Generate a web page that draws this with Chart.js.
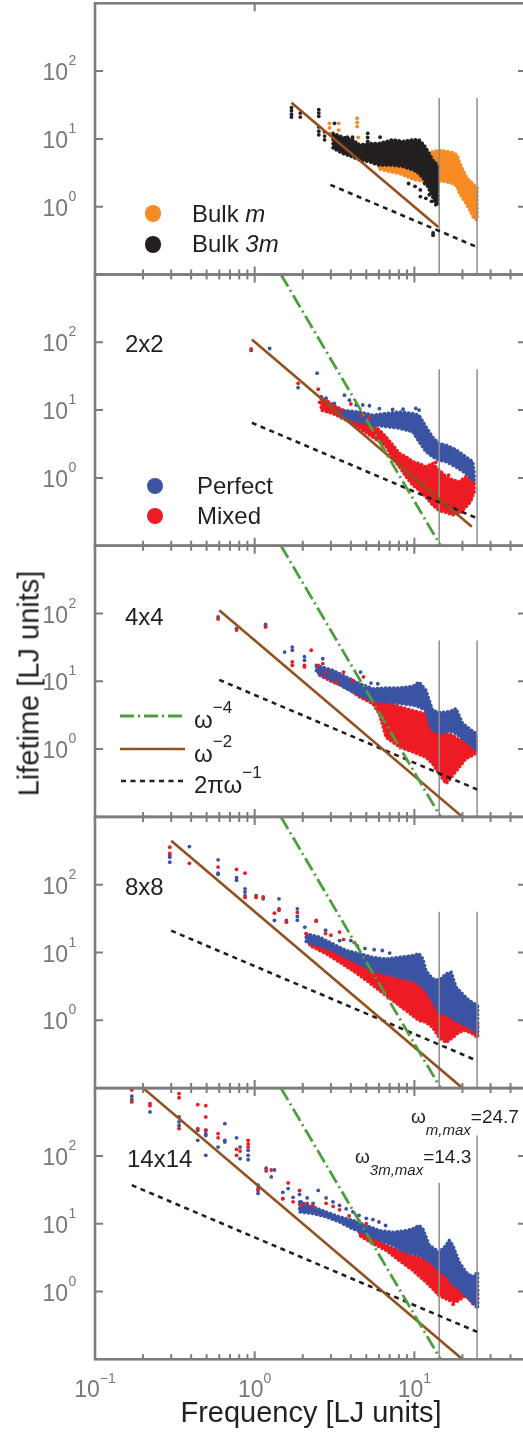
<!DOCTYPE html>
<html>
<head>
<meta charset="utf-8">
<script src="https://cdn.jsdelivr.net/npm/chart.js@4.4.1/dist/chart.umd.min.js"></script>
<style>
  html, body { margin: 0; padding: 0; background: #fff; overflow: hidden; }
  #fig { position: relative; width: 523px; height: 1433px; overflow: hidden;
         font-family: "Liberation Sans", Arial, Helvetica, sans-serif; color: #231f20; }
  #fig canvas { position: absolute; left: 0; }
  .txt { position: absolute; white-space: nowrap; line-height: 1; }
  .dot { position: absolute; border-radius: 50%; }
</style>
</head>
<body>
<div id="fig"></div>
<script>
// axes
var freqRange = [0.1, 50];
var lifeRange = [0.1, 1000];
var freqMajor = [1, 10];
var freqMinor = [0.2, 0.3, 0.4, 0.5, 0.6, 0.7, 0.8, 0.9, 2, 3, 4, 5, 6, 7, 8, 9, 20, 30, 40];
var freqLabelVals = [0.1, 1, 10];
var freqLabelExp = ['\u22121', '0', '1'];
var lifeLabelVals = [1, 10, 100];
var lifeLabelExp = ['0', '1', '2'];

// max frequencies of the two bulk crystals, and where their markers stop (per panel)
var omega3mMax = 14.3;
var omegaMMax = 24.7;
var cutoffTops = [[40, 40], [40, 40], [40, 40], [40, 40], [40, 200]];

// guide lines, [freq, lifetime] end points per panel
var invSquare = [
  [[1.7, 34], [14.1, 0.5]],
  [[0.96, 110], [22.9, 0.19]],
  [[0.6, 112], [20, 0.1]],
  [[0.3, 445], [20, 0.1]],
  [[0.2, 1000], [20, 0.1]]
];
var invFourth = [[1.46, 1000], [14.6, 0.1]];
var twoPiOverW = [
  [[2.98, 2.1], [24.7, 0.254]],
  [[0.96, 6.5], [24.7, 0.254]],
  [[0.6, 10.5], [24.7, 0.254]],
  [[0.3, 21], [24.7, 0.254]],
  [[0.17, 37], [24.7, 0.254]]
];

// bulk: single points [freq, lifetime], dense bands [freq, low, high]
var bulkMDots = [[2.94,17],[2.94,14.5],[2.94,12],[3.36,17],[3.36,13.5],[3.36,10.5],[4.38,20.2],[4.38,17.5],
  [4.38,15.2],[4.45,10.5],[4.45,8.5],[5.6,4.3],[6.7,4.1],[7.3,3.6],[7.9,3.5],[8.5,3.4],[8.9,3.1]];
var bulkMCloud = [[6.0,3.6,4.4],[7.0,3.3,4.3],[8.0,3.1,4.0],[9.0,2.8,4.0],[10.0,2.5,4.2],[11.0,2.4,4.6],
  [12.0,2.3,5.5],[13.0,2.3,6.5],[14.3,2.4,6.8],[15.7,2.35,6.6],[17.3,2.2,6.3],[18.5,2.0,5.8],[19.1,1.6,4.6],
  [20.0,1.35,3.6],[21.1,1.12,2.8],[22.2,0.9,2.4],[23.3,0.71,2.2],[24.0,0.65,2.0],[24.7,0.64,1.9]];
var bulk3mDots = [[1.7,29],[1.7,26],[1.7,23],[1.7,21],[1.93,24],[1.93,21],[2.52,27],[2.52,24],[2.52,21.5],
  [2.52,15],[2.52,13],[2.52,11.5],[2.74,12.8],[2.74,11],[2.74,9.7],[3.16,17],[3.8,10.6],[3.8,8.5],[4.1,10.6],
  [5.1,12.1],[5.1,10.5],[5.1,9.2],[6.1,10.6],[9.2,2.2],[10.1,2.0],[10.9,1.77],[10.9,1.41],[11.8,1.33],
  [12.4,1.5],[12.8,1.2],[13.1,0.41],[13.1,0.38],[11.6,2.2],[12.2,2.6]];
var bulk3mCloud = [[3.09,7.3,12.1],[3.56,6.1,10.6],[4.12,5.4,9.7],[4.53,4.9,8.1],[5.23,4.6,8.6],[6.04,4.1,8.6],
  [7.3,4.1,9.7],[8.5,3.9,9.2],[9.77,3.5,9.7],[10.7,3.1,9.7],[11.5,2.5,8.1],[12.4,1.77,6.1],[13.0,1.41,4.9],
  [13.6,1.06,4.4],[14.1,1.06,3.9]];

// 2x2
var perfect2Dots = [[0.95,76],[1.24,81],[1.87,21.4],[2.46,35],[2.6,15.7],[2.8,15],[3.15,12.6],[3.65,16.6],
  [3.92,14],[4.32,11.9],[4.75,11.9],[5.23,11.6],[6.04,10.5],[7.3,10.2],[8.5,10.3],[10.2,10.6],[10.7,10]];
var perfect2Cloud = [[3.40,8.0,10.0],[4.53,6.75,9.4],[5.49,6.05,8.4],[6.65,5.7,8.9],[8.06,5.4,9.4],
  [9.77,4.8,8.9],[10.7,3.4,8.4],[11.8,2.45,5.7],[13.0,2.05,4.0],[14.3,1.83,3.2],[15.8,1.73,3.05],
  [18.2,1.46,2.6],[21.0,1.16,2.05],[23.2,0.93,1.73],[23.7,0.88,1.16]];
var mixed2Dots = [[0.95,80],[1.87,24.8],[2.5,20.3],[4.0,12.3],[2.55,13],[2.9,11.5],[3.2,10.5],[3.5,9.5],
  [4.7,8.5],[5.2,7.6],[13.6,1.7],[14.8,1.2],[15.6,0.95],[16.4,1.1],[17.0,0.5]];
var mixed2Cloud = [[2.61,10,15.7],[3.09,8.9,11.9],[3.74,7.1,9.45],[4.53,5.4,7.5],[5.49,4.0,6.05],
  [6.04,3.4,5.1],[6.65,2.9,4.0],[7.32,1.94,3.05],[8.06,1.46,2.3],[8.87,1.04,2.05],[9.77,0.78,1.73],
  [10.7,0.66,1.63],[11.8,0.525,1.46],[13.0,0.40,1.63],[14.3,0.33,1.30],[15.8,0.31,1.04],[17.4,0.285,0.93],
  [19.1,0.30,0.88],[21.0,0.37,1.04],[22.5,0.45,1.0],[23.7,0.62,0.88]];

// 4x4
var perfect4Dots = [[0.59,89],[0.77,60],[1.17,69],[1.17,65],[1.54,27],[1.72,32],[1.72,28.7],[2.05,23],
  [2.05,20.4],[2.47,16.7],[2.47,14.5],[2.67,21.5],[2.94,13],[3.1,11],[3.6,9.2],[4.1,8.2],[4.6,13.7],
  [5.35,9.4],[5.9,9.2]];
var perfect4Cloud = [[2.43,13.7,17.2],[3.09,10.3,14.5],[3.74,7.8,11.6],[4.53,6.25,9.2],[5.49,5.2,7.8],
  [6.65,4.95,8.0],[8.06,4.7,8.0],[9.77,4.45,8.4],[10.7,4.2,9.7],[11.8,3.7,7.4],[12.4,2.4,5.2],[13.0,1.9,3.7],
  [14.3,1.7,3.5],[15.8,1.8,3.5],[17.4,1.8,3.7],[18.2,1.7,3.95],[20.0,1.42,2.4],[22.1,1.2,2.0],[24.3,0.96,1.7]];
var mixed4Dots = [[0.59,83],[0.77,57],[1.17,63],[1.72,19.3],[1.72,17.2],[2.05,17.2],[2.05,16.3],[2.26,28.7],
  [2.5,17.2],[2.67,18.2],[2.8,13.7],[3.24,9.7],[3.6,13.7],[4.1,10.3],[4.8,11.6]];
var mixed4Cloud = [[2.55,12.3,15.4],[3.09,9.7,12.3],[3.74,8.2,9.7],[4.53,5.9,7.4],[5.49,4.7,6.25],
  [6.04,3.3,5.2],[6.65,1.5,4.95],[8.06,1.07,4.2],[9.77,0.91,3.7],[11.8,0.76,3.3],[13.0,0.61,2.4],
  [14.3,0.43,1.7],[15.8,0.31,1.7],[17.4,0.41,1.6],[19.1,0.54,1.35],[21.0,0.72,1.5],[24.3,0.86,1.27]];

// 8x8
var perfect8Dots = [[0.294,270],[0.294,255],[0.294,215],[0.39,365],[0.59,233],[0.59,148],[0.59,142],
  [0.77,127],[0.77,116],[0.87,87],[0.87,78],[0.87,69],[1.02,69],[1.13,62],[1.33,29.7],[1.42,62],[1.42,44],
  [1.58,29.7],[1.85,44],[1.85,34],[1.85,30],[2.06,23.6],[2.43,29.7],[2.78,21.3],[3.4,15],[4.0,15],[4.4,12.5],
  [4.9,11.5],[5.6,11],[6.3,10.7],[7.0,9.8]];
var perfect8Cloud = [[2.10,14.2,18.9],[2.55,12.7,16.8],[3.09,10.7,13.4],[3.74,8.5,10.7],[4.53,6.8,9.6],
  [5.49,5.4,8.5],[6.65,4.85,8.05],[8.06,4.3,8.5],[9.77,3.9,9.0],[10.7,3.45,9.6],[11.3,3.1,8.05],
  [11.8,2.75,5.4],[13.0,1.95,4.1],[14.3,1.3,3.9],[15.8,1.24,4.85],[17.0,1.11,5.1],[18.2,0.99,3.1],
  [20.0,0.89,2.45],[22.1,0.79,1.95],[24.9,0.63,1.65]];
var mixed8Dots = [[0.294,358],[0.294,290],[0.39,207],[0.59,182],[0.77,168],[0.87,148],[0.87,65],[1.02,65],
  [1.13,66],[1.33,38],[1.42,42],[1.58,28],[1.85,39],[2.10,19],[2.43,29],[2.78,19],[3.0,18],[3.4,20],
  [3.6,15.5],[4.2,14]];
var mixed8Cloud = [[2.21,12.7,15.9],[2.80,9.6,12.7],[3.40,7.2,10.7],[4.12,5.4,8.05],[4.99,3.9,6.8],
  [6.04,2.75,5.1],[7.32,1.95,4.3],[8.87,1.39,3.9],[10.7,0.99,3.7],[11.8,0.94,3.1],[13.0,0.79,2.45],
  [14.3,0.56,2.2],[15.8,0.47,2.2],[17.4,0.56,1.95],[19.1,0.67,1.75],[21.0,0.71,1.32],[23.2,0.63,1.11],
  [24.9,0.56,0.89]];

// 14x14
var perfect14Dots = [[0.17,760],[0.17,680],[0.221,445],[0.336,375],[0.336,317],[0.336,280],[0.44,239],
  [0.44,170],[0.494,239],[0.494,213],[0.494,200],[0.494,102],[0.59,135],[0.65,299],[0.65,170],[0.65,160],
  [0.77,185],[0.81,135],[0.81,91],[0.91,121],[0.91,102],[0.91,88],[1.05,37],[1.05,33],[1.05,28],[1.18,66],
  [1.27,49],[1.33,62],[1.50,29],[1.50,23.4],[1.62,33],[1.74,24.5],[1.91,27],[1.95,21],[2.13,24],[2.13,17.5],
  [2.32,20],[2.5,31],[2.8,24],[3.09,21],[3.4,18.6],[3.74,16.6],[4.12,14.9],[4.5,13.3],[5.0,12],[5.5,11.5],
  [6.0,10.6],[6.6,9.4]];
var perfect14Cloud = [[1.91,14.9,20.9],[2.32,14.1,17.6],[2.80,12.6,14.9],[3.40,10.6,12.6],[4.12,8.4,11.2],
  [4.99,7.1,9.4],[6.04,5.7,7.9],[7.32,4.8,7.5],[8.87,3.8,7.9],[9.77,3.6,8.4],[10.7,3.4,9.4],[11.3,3.2,8.4],
  [12.4,2.85,4.8],[14.3,2.05,3.8],[15.8,1.73,4.8],[16.5,1.54,5.7],[17.4,1.3,4.8],[19.1,1.10,2.7],
  [21.0,0.87,1.94],[23.2,0.70,1.63],[24.9,0.56,1.94]];
var mixed14Dots = [[0.17,940],[0.17,625],[0.221,590],[0.221,550],[0.336,830],[0.336,720],[0.336,253],
  [0.44,570],[0.44,253],[0.494,550],[0.494,375],[0.494,239],[0.59,213],[0.59,185],[0.77,125],[0.77,102],
  [0.81,118],[0.91,170],[0.91,150],[0.91,135],[1.05,31],[1.18,60],[1.27,62],[1.50,23.4],[1.62,40],[1.74,21],
  [1.91,31],[1.95,19],[2.13,20],[2.32,18],[2.8,20],[3.1,18],[3.4,16],[3.9,13],[4.5,11],[5.0,10],[17.5,0.65]];
var mixed14Cloud = [[4.53,6.7,8.4],[5.49,5.1,6.7],[6.65,4.05,4.8],[8.06,2.85,4.05],[9.77,2.05,3.4],
  [11.8,1.38,3.0],[13.0,1.10,2.55],[14.3,0.87,2.2],[16.5,0.74,2.05],[18.2,0.70,1.73],[21.0,0.87,1.38],
  [23.2,0.66,1.23],[24.9,0.62,1.10]];

// colours
var colBlue = '#3a54a3', colRed = '#ed1c24', colOrange = '#f68b24', colBlack = '#231f20';
var colBrown = '#94501e', colGreen = '#4c9e3e', colCut = '#8e8e8e', colAxis = '#7d7d7d', colTick = '#787878';
var styleInvFourth = { color: colGreen, dash: [14, 4, 2, 4] };
var styleInvSquare = { color: colBrown, dash: [] };
var styleTwoPi = { color: colBlack, dash: [5, 4.5] };

var panelTop0 = 3.3, panelH = 271.2;
var fig = document.getElementById('fig');

function toPts(arr) {
  return arr.map(function (p) { return { x: p[0], y: p[1] }; });
}

// band outline: upper edge left to right, lower edge back
function outline(cloud) {
  var pts = [];
  for (var i = 0; i < cloud.length; i++) pts.push({ x: cloud[i][0], y: cloud[i][2] });
  for (var j = cloud.length - 1; j >= 0; j--) pts.push({ x: cloud[j][0], y: cloud[j][1] });
  pts.push(pts[0]);
  return pts;
}

function lineSet(arr, style, width) {
  return { data: toPts(arr), showLine: true, borderColor: style.color, borderWidth: width || 2.6,
    borderDash: style.dash, pointRadius: 0, fill: false, order: 0 };
}
function dotSet(arr, color, order) {
  return { data: toPts(arr), showLine: false, pointRadius: 1.9, pointBorderWidth: 0,
    backgroundColor: color, borderColor: color, order: order };
}
// filled band, edge drawn as a row of round dots
function cloudSet(cloud, color, order) {
  return { data: outline(cloud), showLine: true, fill: 'shape', borderColor: color, backgroundColor: color,
    borderWidth: 3.4, borderDash: [0.5, 3.6], borderCapStyle: 'round', pointRadius: 0, order: order };
}
function cutoffSets(i) {
  var cut = { color: colCut, dash: [] };
  return [
    lineSet([[omega3mMax, cutoffTops[i][0]], [omega3mMax, lifeRange[0]]], cut, 1.5),
    lineSet([[omegaMMax, cutoffTops[i][1]], [omegaMMax, lifeRange[0]]], cut, 1.5)
  ];
}
function layeredSets(i, perfDots, perfCloud, mixDots, mixCloud) {
  return [
    lineSet(invFourth, styleInvFourth, 2.8),
    lineSet(invSquare[i], styleInvSquare),
    lineSet(twoPiOverW[i], styleTwoPi)
  ].concat(cutoffSets(i), [
    dotSet(mixDots, colRed, 1),
    dotSet(perfDots, colBlue, 2),
    cloudSet(perfCloud, colBlue, 3),
    cloudSet(mixCloud, colRed, 4)
  ]);
}

var panelSets = [
  [lineSet(invSquare[0], styleInvSquare), lineSet(twoPiOverW[0], styleTwoPi)].concat(cutoffSets(0), [
    dotSet(bulk3mDots, colBlack, 1), cloudSet(bulk3mCloud, colBlack, 2),
    dotSet(bulkMDots, colOrange, 3), cloudSet(bulkMCloud, colOrange, 4)]),
  layeredSets(1, perfect2Dots, perfect2Cloud, mixed2Dots, mixed2Cloud),
  layeredSets(2, perfect4Dots, perfect4Cloud, mixed4Dots, mixed4Cloud),
  layeredSets(3, perfect8Dots, perfect8Cloud, mixed8Dots, mixed8Cloud),
  layeredSets(4, perfect14Dots, perfect14Cloud, mixed14Dots, mixed14Cloud)
];

// frame, inward ticks, tick labels and the line key
var framePlugin = {
  id: 'frame',
  afterDatasetsDraw: function (chart, args, opts) {
    var ctx = chart.ctx, a = chart.chartArea, xs = chart.scales.x, ys = chart.scales.y;
    ctx.save();
    ctx.strokeStyle = colAxis;
    ctx.lineWidth = 2;
    ctx.beginPath();
    freqMajor.forEach(function (v) {
      var px = xs.getPixelForValue(v);
      ctx.moveTo(px, a.bottom); ctx.lineTo(px, a.bottom - 8);
      if (!opts.topOnlyAt || opts.topOnlyAt.indexOf(v) >= 0) { ctx.moveTo(px, a.top); ctx.lineTo(px, a.top + 8); }
    });
    freqMinor.forEach(function (v) {
      var px = xs.getPixelForValue(v);
      ctx.moveTo(px, a.bottom); ctx.lineTo(px, a.bottom - 5);
      if (!opts.topOnlyAt) { ctx.moveTo(px, a.top); ctx.lineTo(px, a.top + 5); }
    });
    lifeLabelVals.forEach(function (v) {
      var py = ys.getPixelForValue(v);
      ctx.moveTo(a.left, py); ctx.lineTo(a.left + 8, py);
      ctx.moveTo(a.right, py); ctx.lineTo(a.right - 8, py);
    });
    ctx.stroke();
    ctx.lineWidth = 2.6;
    ctx.strokeRect(a.left, a.top, a.right - a.left, a.bottom - a.top);

    ctx.fillStyle = colTick;
    ctx.textBaseline = 'alphabetic';
    lifeLabelVals.forEach(function (v, k) {
      var py = ys.getPixelForValue(v);
      ctx.font = '23px "Liberation Sans", Arial, sans-serif';
      ctx.textAlign = 'right';
      ctx.fillText('10', a.left - 27, py + 9);
      ctx.font = '14px "Liberation Sans", Arial, sans-serif';
      ctx.textAlign = 'left';
      ctx.fillText(lifeLabelExp[k], a.left - 26.5, py - 6);
    });
    if (opts.freqLabels) {
      ctx.textAlign = 'left';
      freqLabelVals.forEach(function (v, k) {
        var px = xs.getPixelForValue(v);
        ctx.font = '23px "Liberation Sans", Arial, sans-serif';
        var w1 = ctx.measureText('10').width;
        ctx.font = '14px "Liberation Sans", Arial, sans-serif';
        var w2 = ctx.measureText(freqLabelExp[k]).width;
        var x0 = px - (w1 + w2) / 2;
        ctx.fillText(freqLabelExp[k], x0 + w1, a.bottom + 24);
        ctx.font = '23px "Liberation Sans", Arial, sans-serif';
        ctx.fillText('10', x0, a.bottom + 38);
      });
    }
    if (opts.key) {
      opts.key.forEach(function (item) {
        ctx.strokeStyle = item.style.color;
        ctx.lineWidth = item.width;
        ctx.setLineDash(item.style.dash);
        ctx.beginPath();
        ctx.moveTo(item.x0, item.y - opts.offset);
        ctx.lineTo(item.x1, item.y - opts.offset);
        ctx.stroke();
      });
      ctx.setLineDash([]);
    }
    ctx.restore();
  }
};

for (var i = 0; i < 5; i++) {
  var areaTop = panelTop0 + i * panelH;
  var canvasTop = Math.floor(areaTop) - 12;
  var padTop = areaTop - canvasTop;
  var h = Math.ceil(padTop + panelH + (i === 4 ? 60 : 12));
  var cv = document.createElement('canvas');
  cv.width = 530;
  cv.height = h;
  cv.style.top = canvasTop + 'px';
  fig.appendChild(cv);

  var frameOpts = { offset: canvasTop, freqLabels: i === 4, topOnlyAt: i === 0 ? [1] : null };
  if (i === 2) {
    frameOpts.key = [
      { style: styleInvFourth, width: 2.8, x0: 120, x1: 185, y: 716 },
      { style: styleInvSquare, width: 2.6, x0: 120, x1: 185, y: 749 },
      { style: styleTwoPi, width: 2.6, x0: 121, x1: 184, y: 781 }
    ];
  }

  new Chart(cv, {
    type: 'scatter',
    data: { datasets: panelSets[i] },
    options: {
      responsive: false,
      animation: false,
      events: [],
      layout: { padding: { left: 0, right: 3, top: padTop, bottom: h - padTop - panelH } },
      plugins: { legend: { display: false }, tooltip: { enabled: false }, frame: frameOpts },
      scales: {
        x: { type: 'logarithmic', min: freqRange[0], max: freqRange[1],
             grid: { display: false }, border: { display: false }, ticks: { display: false },
             afterFit: function (s) { s.height = 0; } },
        y: { type: 'logarithmic', min: lifeRange[0], max: lifeRange[1],
             grid: { display: false }, border: { display: false }, ticks: { display: false },
             afterFit: function (s) { s.width = 95; } }
      }
    },
    plugins: [framePlugin]
  });
}

// text overlays, placed by baseline
function addText(html, left, baseline, size, width, align) {
  var d = document.createElement('div');
  d.className = 'txt';
  d.innerHTML = html;
  d.style.fontSize = size + 'px';
  d.style.left = left + 'px';
  d.style.top = (baseline - 0.8465 * size) + 'px';
  if (width) { d.style.width = width + 'px'; d.style.textAlign = align || 'center'; }
  fig.appendChild(d);
  return d;
}
function up(t, size, rise) {
  return '<span style="font-size:' + size + 'px;position:relative;top:-' + rise + 'px">' + t + '</span>';
}
function down(t, size, drop) {
  return '<i style="font-size:' + size + 'px;position:relative;top:' + drop + 'px">' + t + '</i>';
}
function addDot(cx, cy, color) {
  var d = document.createElement('div');
  d.className = 'dot';
  d.style.width = d.style.height = '16.6px';
  d.style.left = (cx - 8.3) + 'px';
  d.style.top = (cy - 8.3) + 'px';
  d.style.background = color;
  fig.appendChild(d);
}

addText('Frequency [LJ units]', 111, 1423, 29, 400);
var yTitle = addText('Lifetime [LJ units]', -121, 693.5, 29, 300);
yTitle.style.height = '29px';
yTitle.style.lineHeight = '29px';
yTitle.style.top = '669px';
yTitle.style.transform = 'rotate(-90deg)';

addDot(153, 213.3, colOrange);
addDot(153, 244.5, colBlack);
addText('Bulk <i>m</i>', 192, 222, 24);
addText('Bulk <i>3m</i>', 192, 252.5, 24);

addDot(155, 486, colBlue);
addDot(155, 516, colRed);
addText('Perfect', 197, 494, 24);
addText('Mixed', 197, 524, 24);

addText('2x2', 125, 352, 24);
addText('4x4', 125, 625, 24);
addText('8x8', 125, 895, 24);
addText('14x14', 127, 1167, 24);

addText('\u03c9' + up('\u22124', 17, 15), 194, 728, 24);
addText('\u03c9' + up('\u22122', 17, 15), 194, 762, 24);
addText('2\u03c0\u03c9' + up('\u22121', 17, 15), 194, 793, 24);

addText('\u03c9' + down('m,max', 15, 12) + '=24.7', 411, 1123, 19);
addText('\u03c9' + down('3m,max', 15, 12) + '=14.3', 355, 1163, 19);
</script>
</body>
</html>
